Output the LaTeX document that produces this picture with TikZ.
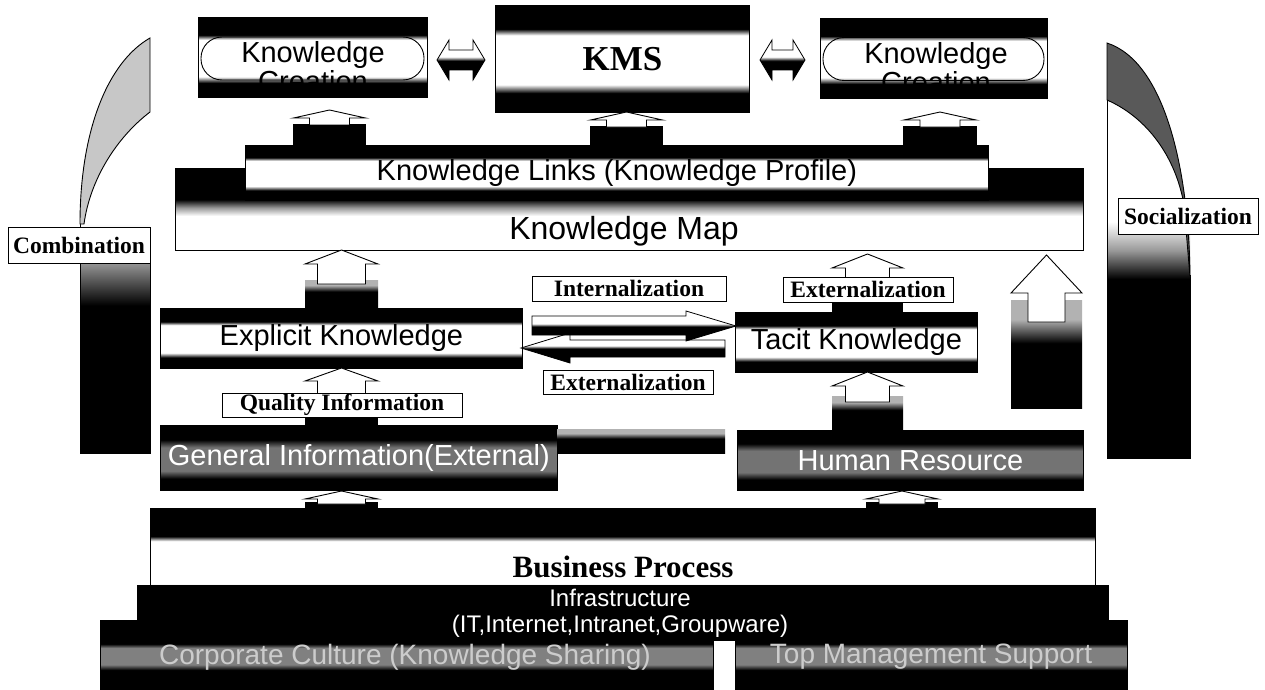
\documentclass[tikz,border=0pt]{standalone}
\usepackage{fontspec}
\setmainfont{Liberation Serif}
\newfontfamily\sansf{Liberation Sans}

\colorlet{midgray}{black!55}
\colorlet{fadegray}{black!40}
\colorlet{dimgray}{black!50}
\colorlet{hazegray}{black!30}
\colorlet{paper}{white}
\colorlet{ink}{black}

% vertical shadings (0bp = bottom; the 25bp..75bp range covers the shape)
\pgfdeclareverticalshading{band}{100bp}{color(0bp)=(ink); color(34bp)=(ink); color(38bp)=(paper); color(61bp)=(paper); color(64bp)=(ink); color(100bp)=(ink)}
\pgfdeclareverticalshading{darkband}{100bp}{color(0bp)=(ink); color(34bp)=(ink); color(40bp)=(midgray); color(58bp)=(midgray); color(64bp)=(ink); color(100bp)=(ink)}
\pgfdeclareverticalshading{mapband}{100bp}{color(0bp)=(paper); color(46bp)=(paper); color(51bp)=(fadegray); color(56bp)=(ink); color(100bp)=(ink)}
\pgfdeclareverticalshading{bpband}{100bp}{color(0bp)=(ink); color(26bp)=(ink); color(29bp)=(paper); color(55bp)=(paper); color(58bp)=(ink); color(100bp)=(ink)}
\pgfdeclareverticalshading{botband}{100bp}{color(0bp)=(ink); color(39bp)=(ink); color(43bp)=(dimgray); color(55bp)=(dimgray); color(58bp)=(ink); color(100bp)=(ink)}
\pgfdeclareverticalshading{halfband}{100bp}{color(0bp)=(ink); color(49bp)=(ink); color(54bp)=(paper); color(100bp)=(paper)}
\pgfdeclareverticalshading{lightcol}{100bp}{color(0bp)=(ink); color(52bp)=(ink); color(60bp)=(fadegray); color(67bp)=(paper); color(100bp)=(paper)}
\pgfdeclareverticalshading{rightcol}{100bp}{color(0bp)=(ink); color(50bp)=(ink); color(54bp)=(fadegray); color(58bp)=(paper); color(100bp)=(paper)}
\pgfdeclareverticalshading{basefade}{100bp}{color(0bp)=(ink); color(55bp)=(ink); color(66bp)=(hazegray); color(100bp)=(hazegray)}

\newcommand{\fsz}[1]{\fontsize{#1}{#1}\selectfont}

% upward block arrow: centre x, tip y, head base y, shaft end y, half head width, half shaft width
\newcommand{\uparr}[6]{%
  \draw[blockarr] (#1,#2) -- ({#1+#5},#3) -- ({#1+#6},#3) -- ({#1+#6},#4)
    -- ({#1-#6},#4) -- ({#1-#6},#3) -- ({#1-#5},#3) -- cycle;}

\tikzset{
  boxline/.style={draw=black, line width=0.8pt, inner sep=0pt, anchor=north west},
  bandbox/.style={boxline, shade, shading=band},
  darkbox/.style={boxline, shade, shading=darkband, text=white},
  tag/.style={draw=black, line width=0.9pt, fill=white, inner sep=0pt, font=\bfseries\fsz{23.5}},
  blockarr/.style={draw=black, line width=0.9pt, fill=white, line join=miter},
  flatarr/.style={draw=black, line width=0.8pt, shade, shading=halfband, line join=miter},
  sanslbl/.style={font=\sansf\fsz{29}},
  plain/.style={inner sep=0pt},
}

\begin{document}
\begin{tikzpicture}[x=1pt, y=-1pt]
\useasboundingbox (0,0) rectangle (1265,690);

% ---- left column with horn (Combination)
\path[shade, shading=lightcol] (80,180) rectangle (150,453);
\draw[line width=0.8pt] (80,222) -- (80,453) -- (150,453) -- (150,227);
\path[draw=black, line width=0.9pt, fill=black!22]
  (80,224) .. controls (80,130) and (108,62) .. (150,38) -- (150,112)
  .. controls (116,138) and (90,180) .. (84,224) -- cycle;

% ---- right column with horn (Socialization)
\path[shade, shading=rightcol] (1107,100) rectangle (1190,458);
\draw[line width=0.8pt] (1107,100) -- (1107,458) -- (1190,458) -- (1190,275);
\path[draw=black, line width=0.9pt, fill=black!65]
  (1107,43) -- (1107,100) .. controls (1148,118) and (1176,158) .. (1184,205)
  -- (1190,277) .. controls (1189,170) and (1165,62) .. (1107,43) -- cycle;

% ---- knowledge map and links
\node[boxline, shade, shading=mapband, minimum width=908pt, minimum height=82pt] (map) at (175,168) {};
\node[plain, font=\sansf\fsz{32}] (maptext) at (624,231) {Knowledge Map};
\node[bandbox, sanslbl, minimum width=743pt, minimum height=55pt] (links) at (245,145) {Knowledge Links (Knowledge Profile)};

% ---- top row: knowledge creation / KMS / knowledge creation
\node[bandbox, minimum width=229pt, minimum height=80pt] (kcl) at (198,17) {};
\node[draw=black, line width=0.9pt, rounded corners=21pt, minimum width=223pt, minimum height=43pt, inner sep=0pt] (kclring) at (312.5,58.5) {};
\node[plain, align=center, font=\sansf\fontsize{29}{29}\selectfont] (kcltext) at (313,67) {Knowledge\\Creation};

\node[bandbox, font=\bfseries\fsz{35}, minimum width=254pt, minimum height=107pt] (kms) at (495,5) {KMS};

\node[bandbox, minimum width=227pt, minimum height=80pt] (kcr) at (820,18) {};
\node[draw=black, line width=0.9pt, rounded corners=21pt, minimum width=221pt, minimum height=43pt, inner sep=0pt] (kcrring) at (933.5,59) {};
\node[plain, align=center, font=\sansf\fontsize{29}{29}\selectfont] (kcrtext) at (936,68) {Knowledge\\Creation};

% double arrows between the top boxes
\path[flatarr] (437,60) -- (449,40) -- (449,50) -- (473,50) -- (473,40) -- (485,60)
  -- (473,80) -- (473,70) -- (449,70) -- (449,80) -- cycle;
\path[flatarr] (760,60) -- (772,40) -- (772,50) -- (793,50) -- (793,40) -- (805,60)
  -- (793,80) -- (793,70) -- (772,70) -- (772,80) -- cycle;

% arrows from the links bar up to the top row
\fill[black] (293,124) rectangle (366,146);
\uparr{329.5}{110}{118}{125}{36}{20}
\fill[black] (590,126) rectangle (663,146);
\uparr{626.5}{112}{120}{127}{36}{20}
\fill[black] (903,126) rectangle (977,146);
\uparr{940}{112}{120}{127}{36}{20}

% ---- explicit and tacit knowledge
\node[bandbox, sanslbl, minimum width=362pt, minimum height=60pt] (expl) at (160,308) {Explicit Knowledge};
\path[shade, shading=basefade] (305,280) rectangle (378,309);
\uparr{341.5}{250}{264}{284}{36.5}{24}

\node[bandbox, sanslbl, minimum width=242pt, minimum height=60pt] (tacit) at (735,312) {Tacit Knowledge};
\fill[black] (832,300) rectangle (903,313);
\uparr{867.5}{254}{268}{280}{35.5}{22}

% exchange arrows between explicit and tacit knowledge
\path[flatarr] (725,340) -- (570,340) -- (570,333) -- (521,348) -- (570,363) -- (570,357) -- (725,357) -- cycle;
\path[flatarr] (532,316) -- (686,316) -- (686,311) -- (736,326) -- (686,341) -- (686,335) -- (532,335) -- cycle;

% big arrow on the right into the map
\path[shade, shading=basefade] (1011,300) rectangle (1082,408);
\uparr{1046.5}{255}{293}{322}{35.5}{18.5}

% ---- information sources
\node[darkbox, sanslbl, minimum width=397pt, minimum height=65pt] (geninfo) at (160,425) {General Information(External)};
\path[shade, shading=basefade] (557,429) rectangle (725,453);
\fill[black] (305,416) rectangle (378,426);
\uparr{341.5}{368}{381}{395}{36.5}{24}

\node[darkbox, sanslbl, minimum width=346pt, minimum height=60pt] (hr) at (737,430) {Human Resource};
\path[shade, shading=basefade] (832,396) rectangle (903,431);
\uparr{867.5}{372}{386}{402}{35.5}{22}

% ---- foundations (drawn first, partly hidden by the infrastructure bar)
\node[boxline, shade, shading=botband, minimum width=613pt, minimum height=69pt] (culture) at (100,620) {};
\node[plain, font=\sansf\fsz{28}, text=black!20] (culturetext) at (405,657) {Corporate Culture (Knowledge Sharing)};
\node[boxline, shade, shading=botband, minimum width=392pt, minimum height=69pt] (support) at (735,620) {};
\node[plain, font=\sansf\fsz{28}, text=black!20] (supporttext) at (931,657) {Top Management Support};

% ---- business process and infrastructure
\node[boxline, shade, shading=bpband, minimum width=945pt, minimum height=82pt] (bp) at (150,508) {};
\node[plain, font=\bfseries\fsz{31}] (bptext) at (623,567) {Business Process};
\fill[black] (305,502) rectangle (378,509);
\uparr{341.5}{491}{499}{504}{36.5}{24}
\fill[black] (866,502) rectangle (938,509);
\uparr{902}{491}{499}{504}{36}{23}

\node[boxline, fill=black, minimum width=971pt, minimum height=55pt] (infra) at (137,585) {};
\node[plain, align=center, text=white,
      font={\sansf\fontsize{24}{26}\selectfont}] (infratext) at (620,613)
  {Infrastructure\\(IT,Internet,Intranet,Groupware)};

% ---- conversion labels
\node[tag, minimum width=142pt, minimum height=36pt] (lcomb) at (79,245) {Combination};
\node[tag, minimum width=140pt, minimum height=36pt] (lsoc) at (1188,216) {Socialization};
\node[tag, minimum width=240pt, minimum height=24pt] (lqual) at (342,405) {Quality Information};
\node[tag, minimum width=194pt, minimum height=25pt] (lint) at (629,288.5) {Internalization};
\node[tag, minimum width=170pt, minimum height=25pt] (lext1) at (868,289.5) {Externalization};
\node[tag, minimum width=170pt, minimum height=24pt] (lext2) at (628,382) {Externalization};
\end{tikzpicture}
\end{document}
